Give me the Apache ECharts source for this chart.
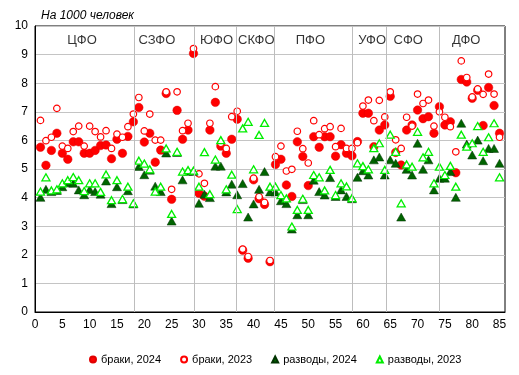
<!DOCTYPE html>
<html>
<head>
<meta charset="utf-8">
<script src="https://cdn.jsdelivr.net/npm/echarts@6/dist/echarts.min.js"></script>
<style>
  html,body{margin:0;padding:0;background:#fff;}
  #chart{width:519px;height:375px;}
</style>
</head>
<body>
<div id="chart"></div>
<script>
// браки и разводы на 1000 человек, регионы 1..85
var marriages2024 = [5.76,5.13,5.65,6.25,5.55,5.34,5.95,5.95,5.55,5.55,5.65,5.82,5.84,5.36,6.04,5.55,6.14,6.65,
    7.15,5.94,6.25,5.24,5.66,7.64,3.94,7.05,6.04,6.36,9.04,
    4.15,4.05,6.36,7.33,5.80,5.55,6.04,6.74,
    2.16,1.88,4.62,3.96,3.76,1.76,5.16,
    5.34,4.44,4.04,5.95,5.44,4.42,6.13,5.76,6.13,6.13,5.45,5.85,5.55,5.46,
    5.96,6.95,6.95,5.78,6.36,6.54,
    7.54,5.58,5.14,6.36,6.54,7.06,6.76,6.83,6.25,7.18,
    6.54,6.65,4.87,8.13,8.04,7.47,7.75,6.52,7.85,7.22,6.25];
var marriages2023 = [6.70,5.99,6.11,7.12,5.80,5.72,6.31,6.50,5.80,6.50,6.31,6.12,6.34,5.72,6.22,6.11,6.48,6.92,
    7.50,6.33,6.92,6.01,6.01,7.70,4.29,7.70,6.34,6.60,9.21,
    4.83,4.50,6.60,7.88,5.90,5.72,6.83,7.02,
    2.20,1.94,4.68,4.03,3.83,1.80,5.43,
    5.80,4.93,4.99,6.32,5.71,5.21,6.69,6.20,6.41,6.48,5.78,6.42,5.72,5.72,
    5.92,7.20,7.41,6.69,7.40,6.82,
    7.70,6.02,5.72,6.81,6.50,7.62,7.29,7.41,6.50,7.00,
    6.81,6.48,5.60,8.78,8.20,7.52,7.80,7.61,8.32,7.62,6.11];
var divorces2024 = [4.01,4.29,4.21,4.25,4.38,4.52,4.50,4.27,4.10,4.28,4.21,4.12,4.58,3.79,4.38,3.93,4.24,3.78,
    5.09,4.80,4.96,4.40,4.21,5.56,3.18,5.58,4.62,4.92,4.92,
    3.80,4.12,4.00,5.10,5.10,4.20,4.47,4.10,
    4.49,3.32,3.78,4.29,4.91,4.20,4.20,
    3.89,3.79,2.90,3.40,3.93,3.40,4.61,4.21,4.09,4.70,4.04,4.27,4.04,3.96,
    4.71,4.94,4.79,5.32,5.42,4.79,
    5.32,5.20,3.32,4.99,4.79,5.90,4.99,5.32,4.27,4.68,
    4.68,4.91,4.01,6.60,5.87,5.49,6.01,5.29,5.72,5.72,5.20];
var divorces2023 = [4.21,4.71,4.25,4.29,4.50,4.61,4.72,4.61,4.23,4.50,4.50,4.20,4.81,3.91,4.61,3.95,4.38,3.80,
    5.29,5.19,4.99,4.21,4.38,5.72,3.43,5.60,4.91,4.96,4.94,
    4.38,5.59,4.12,5.33,6.01,4.29,4.80,3.60,
    6.42,6.65,4.99,6.19,6.61,4.38,4.38,
    4.09,3.97,2.99,3.57,3.96,3.57,4.79,4.71,4.25,4.97,4.09,4.50,4.39,3.98,
    5.20,5.10,4.99,5.73,5.90,4.97,
    6.20,5.60,3.80,5.16,5.08,6.30,5.41,5.60,4.50,5.08,
    4.79,5.11,4.38,6.20,5.78,5.90,6.50,5.60,6.11,6.60,4.71];

// федеральные округа: подписи и границы
var districts = ['ЦФО','СЗФО','ЮФО','СКФО','ПФО','УФО','СФО','ДФО'];
var districtLabelX = [8.6,22.3,33.2,40.5,50.4,61.7,68.3,78.9];
var districtBounds = [18.2,29.2,36.9,43.85,58.1,64.2,74.0];
var seriesNames = ['браки, 2024','браки, 2023','разводы, 2024','разводы, 2023'];

function toPoints(arr){
    var res = [];
    for (var i = 0; i < arr.length; i++) {
        res.push([i + 1, arr[i]]);
    }
    return res;
}

var font = 'Arial, "Liberation Sans", sans-serif';
var myChart = echarts.init(document.getElementById('chart'));

var option = {
    backgroundColor: '#fff',
    animation: false,
    textStyle: {fontFamily: font},
    title: {
        text: 'На 1000 человек',
        left: 36,
        top: 5,
        textStyle: {fontSize: 12, fontStyle: 'italic', fontWeight: 'normal', color: '#000', fontFamily: font}
    },
    grid: {
        left: 35, right: 14, top: 26, bottom: 63,
        show: true, borderColor: '#000', borderWidth: 1
    },
    legend: {
        top: 349,
        left: 84,
        itemWidth: 6,
        itemHeight: 6,
        itemGap: 19,
        textStyle: {fontSize: 11, color: '#000', fontFamily: font},
        data: seriesNames
    },
    xAxis: {
        type: 'value',
        min: 0, max: 86, interval: 5,
        axisLine: {show: true, lineStyle: {color: '#000'}},
        axisTick: {show: false},
        splitLine: {show: false},
        axisLabel: {fontSize: 12, color: '#000', margin: 7, showMaxLabel: false}
    },
    yAxis: {
        type: 'value',
        min: 0, max: 10, interval: 1,
        axisLine: {show: true, lineStyle: {color: '#000'}},
        axisTick: {show: false},
        splitLine: {show: true, lineStyle: {color: '#c4c4c4'}},
        axisLabel: {fontSize: 12, color: '#000', margin: 7}
    },
    series: [
        {
            name: seriesNames[0], type: 'scatter', symbol: 'circle', symbolSize: 8.5,
            itemStyle: {color: '#ff0000', borderColor: '#e00000', borderWidth: 0.5, opacity: 1},
            data: toPoints(marriages2024),
            markLine: {
                silent: true, symbol: 'none',
                label: {show: false},
                lineStyle: {color: '#bdbdbd', width: 1, type: 'solid'},
                data: districtBounds.map(function(v){ return {xAxis: v}; })
            }
        },
        {
            name: seriesNames[1], type: 'scatter', symbol: 'circle', symbolSize: 6.5,
            itemStyle: {color: '#fff', borderColor: '#ff0000', borderWidth: 1.2, opacity: 1},
            data: toPoints(marriages2023)
        },
        {
            name: seriesNames[2], type: 'scatter', symbol: 'triangle', symbolSize: [9, 8],
            itemStyle: {color: '#006400', borderColor: '#003300', borderWidth: 0.5, opacity: 1},
            data: toPoints(divorces2024)
        },
        {
            name: seriesNames[3], type: 'scatter', symbol: 'triangle', symbolSize: [8, 7],
            itemStyle: {color: '#fff', borderColor: '#00ee00', borderWidth: 1.3, opacity: 1},
            data: toPoints(divorces2023)
        },
        {
            name: 'округа', type: 'scatter', symbolSize: 0, silent: true,
            label: {
                show: true, position: 'inside', formatter: function(p){ return p.data[2]; },
                fontSize: 13, color: '#000', fontFamily: font
            },
            data: districts.map(function(d, i){ return [districtLabelX[i], 9.5, d]; })
        }
    ]
};

myChart.setOption(option);
</script>
</body>
</html>
